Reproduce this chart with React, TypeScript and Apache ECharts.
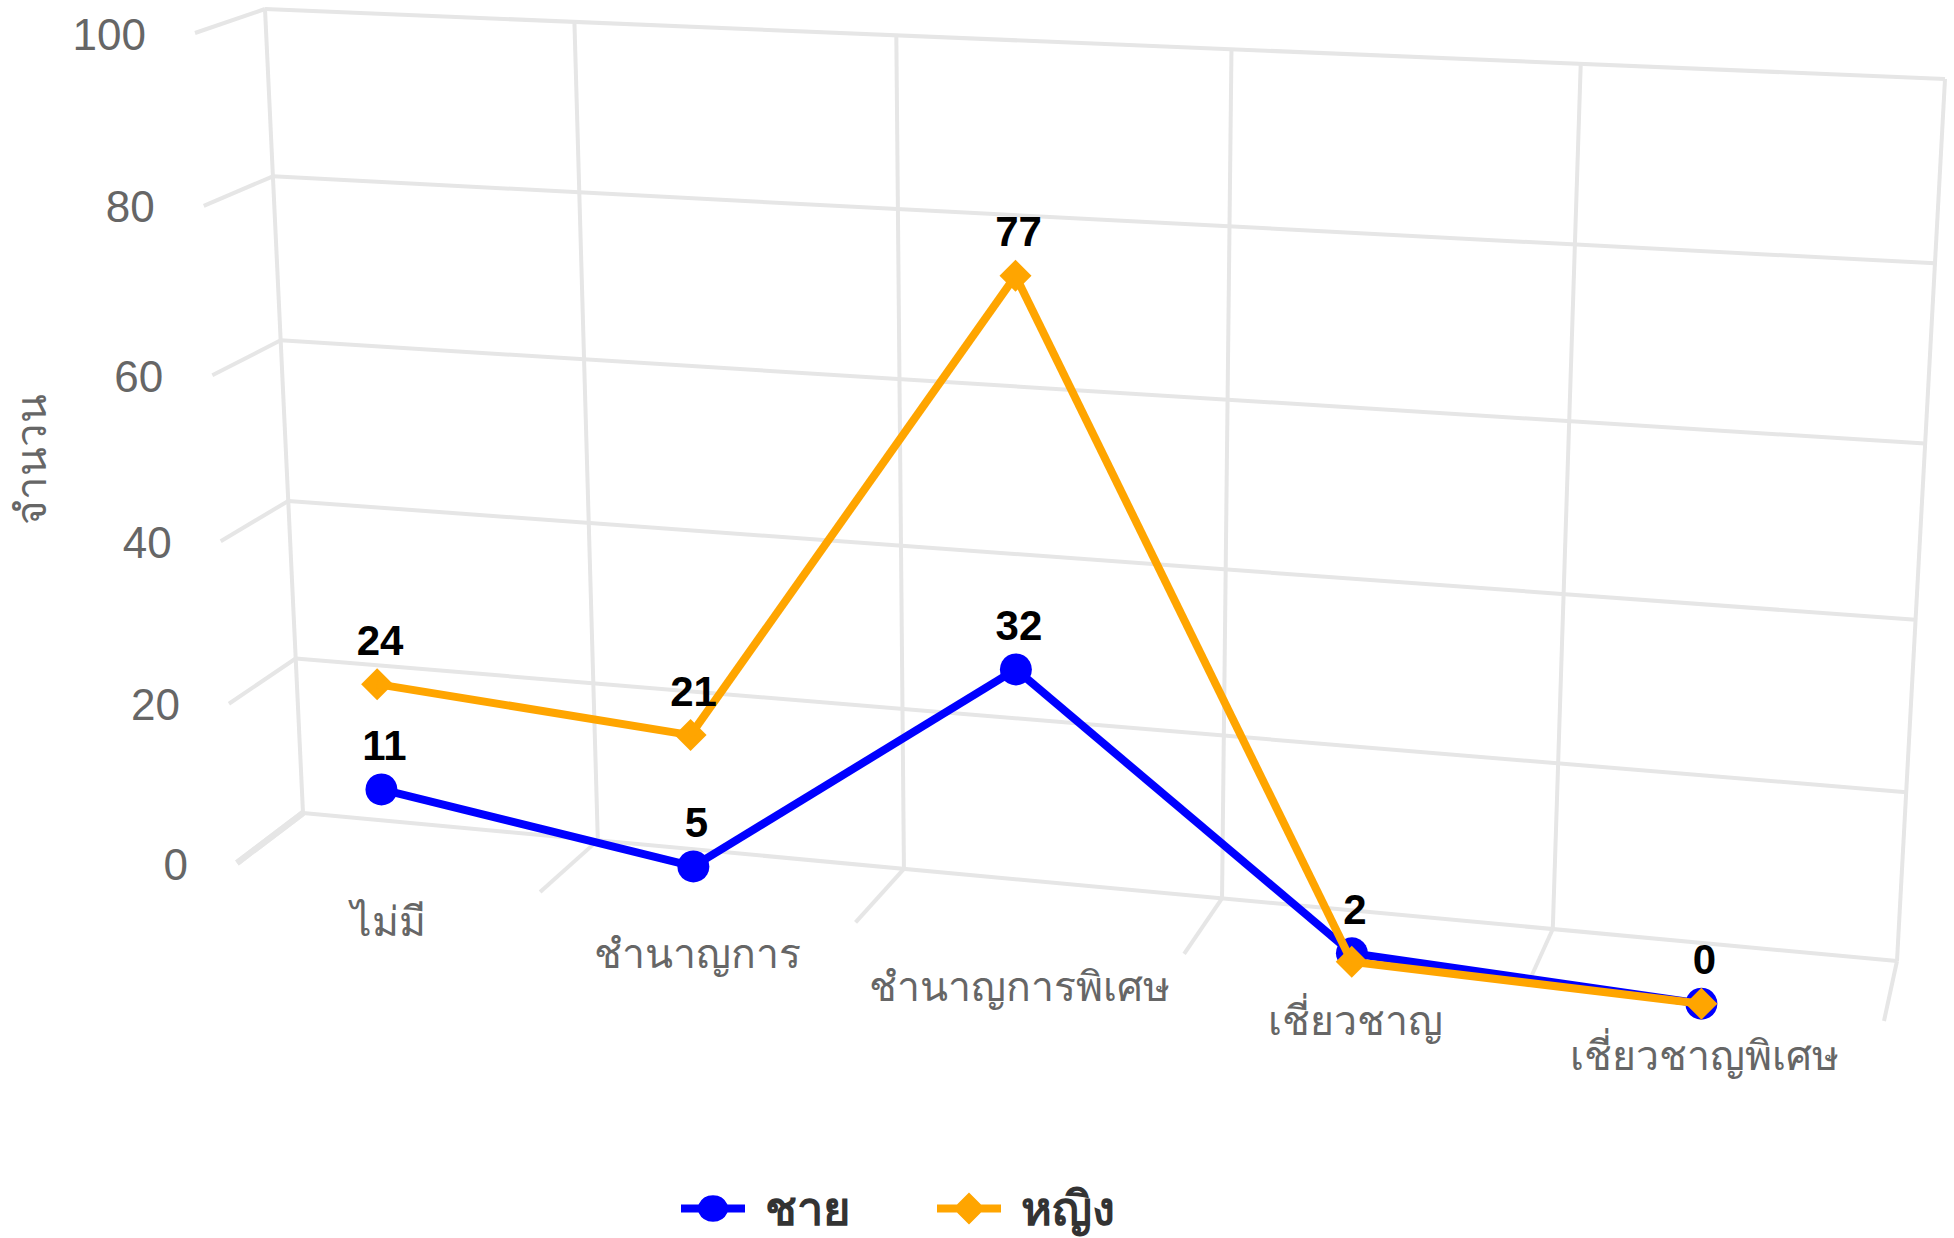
import React, { useEffect, useRef } from "react";
import * as echarts from "echarts";

const categories = ["ไม่มี", "ชำนาญการ", "ชำนาญการพิเศษ", "เชี่ยวชาญ", "เชี่ยวชาญพิเศษ"];
const maleValues = [11, 5, 32, 2, 0];
const femaleValues = [24, 21, 77, 1, 0];
const yTicks = [0, 20, 40, 60, 80, 100];
const maleName = "ชาย";
const femaleName = "หญิง";
const axisTitle = "จำนวน";

const FONT = '"Liberation Sans", Arial, "Noto Sans", sans-serif';
const GRID = { left: 200, top: 59, width: 1700, height: 800 };
type P = [number, number];
const FRONT: P[] = [[195, 33], [1934, 105], [1884, 1021], [237, 863]];
const BACK: P[] = [[265, 9], [1945, 79], [1897, 961], [303, 813]];
const POINT_DX = -2;

function homography(q: P[]) {
  const [[x0, y0], [x1, y1], [x2, y2], [x3, y3]] = q;
  const dx1 = x1 - x2, dx2 = x3 - x2, sx = x0 - x1 + x2 - x3;
  const dy1 = y1 - y2, dy2 = y3 - y2, sy = y0 - y1 + y2 - y3;
  const den = dx1 * dy2 - dx2 * dy1;
  const g = (sx * dy2 - dx2 * sy) / den, h = (dx1 * sy - sx * dy1) / den;
  const a = x1 - x0 + g * x1, b = x3 - x0 + h * x3, d = y1 - y0 + g * y1, e = y3 - y0 + h * y3;
  return (p: number[]): P => {
    const u = (p[0] - GRID.left) / GRID.width, v = (p[1] - GRID.top) / GRID.height;
    const w = g * u + h * v + 1;
    return [(a * u + b * v + x0) / w, (d * u + e * v + y0) / w];
  };
}
const toFront = homography(FRONT);
const toBack = homography(BACK);

const GRID_COLOR = "#e6e6e6";
const seg = (a: P, b: P, lineWidth = 4) => ({
  type: "line",
  shape: { x1: a[0], y1: a[1], x2: b[0], y2: b[1] },
  style: { stroke: GRID_COLOR, lineWidth, fill: null },
});

function renderFrame(_: any, api: any) {
  const band = api.size([1, 0])[0];
  const x0 = api.coord([0, 0])[0] - band / 2;
  const children: any[] = [];
  yTicks.forEach((t) => {
    const l = api.coord([0, t])[1];
    const left = [x0, l], right = [x0 + band * categories.length, l];
    children.push(seg(toBack(left), toBack(right)));
    children.push(seg(toFront(left), toBack(left), t === 0 ? 6 : 4));
    const f = toFront(left);
    children.push({
      type: "text",
      x: f[0] - 49,
      y: f[1] + 1,
      style: { text: String(t), fontSize: 44, fontFamily: FONT, fill: "#666666", align: "right", verticalAlign: "middle" },
    });
  });
  const yBottom = api.coord([0, 0])[1], yTop = api.coord([0, 100])[1];
  for (let i = 0; i <= categories.length; i++) {
    const x = x0 + band * i;
    children.push(seg(toBack([x, yTop]), toBack([x, yBottom])));
    children.push(seg(toFront([x, yBottom]), toBack([x, yBottom]), i === 0 ? 6 : 4));
  }
  categories.forEach((c, i) => {
    const p = toFront(api.coord([i, 0]));
    children.push({
      type: "text",
      x: p[0] + 1.5,
      y: p[1] + 45 + 1.9 * i,
      style: { text: c, fontSize: 41, fontFamily: FONT, fill: "#666666", align: "center", verticalAlign: "middle" },
    });
  });
  return { type: "group", children };
}

const lineRenderer = (values: number[], other: number[] | null, color: string, diamond: boolean) => (_: any, api: any) => {
  const i = api.value(0);
  const raw = toFront(api.coord([i, api.value(1)]));
  const p: P = [raw[0] + POINT_DX, raw[1]];
  const children: any[] = [];
  if (i > 0) {
    const q = toFront(api.coord([i - 1, values[i - 1]]));
    children.push({
      type: "line",
      shape: { x1: q[0] + POINT_DX, y1: q[1], x2: p[0], y2: p[1] },
      style: { stroke: color, lineWidth: 8, fill: null },
    });
  }
  children.push(
    diamond
      ? {
          type: "polygon",
          shape: { points: [[p[0], p[1] - 16], [p[0] + 16, p[1]], [p[0], p[1] + 16], [p[0] - 16, p[1]]] },
          style: { fill: color },
        }
      : { type: "circle", shape: { cx: p[0], cy: p[1], r: 16 }, style: { fill: color } }
  );
  // a label that would collide with the other series' label stays hidden, as in the reference
  if (!other || Math.abs(values[i] - other[i]) >= 5) {
    children.push({
      type: "text",
      x: p[0] + 3,
      y: p[1] - 44,
      z2: 10,
      style: { text: String(values[i]), fontSize: 42, fontWeight: "bold", fontFamily: FONT, fill: "#000000", align: "center", verticalAlign: "middle" },
    });
  }
  return { type: "group", children };
};

const maleIcon = "path://M0 12H17.5A16 16 0 0 1 46.5 12H64V20H46.5A16 16 0 0 1 17.5 20H0Z";
const femaleIcon = "path://M0 12H20L32 0L44 12H64V20H44L32 32L20 20H0Z";

export default function App() {
  const ref = useRef<HTMLDivElement>(null);
  useEffect(() => {
    const chart = echarts.init(ref.current!, undefined, { renderer: "svg" });
    chart.setOption({
      animation: false,
      backgroundColor: "#ffffff",
      grid: { ...GRID, outerBoundsMode: "none" },
      xAxis: { type: "category", data: categories, show: false },
      yAxis: {
        type: "value",
        min: 0,
        max: 100,
        interval: 20,
        axisLine: { show: false },
        axisTick: { show: false },
        axisLabel: { show: false },
        splitLine: { show: false },
        name: axisTitle,
        nameLocation: "middle",
        nameRotate: 90,
        nameGap: 148,
        nameTextStyle: { fontSize: 42, fontFamily: FONT, color: "#666666" },
      },
      legend: {
        left: 676,
        top: 1180,
        itemWidth: 64,
        itemHeight: 32,
        itemGap: 86,
        data: [
          { name: maleName, icon: maleIcon },
          { name: femaleName, icon: femaleIcon },
        ],
        textStyle: { fontSize: 47, fontWeight: "bold", fontFamily: FONT, color: "#333333", padding: [0, 0, 0, 15] },
      },
      series: [
        { type: "custom", name: "grid", renderItem: renderFrame, data: [[0, 0]], silent: true, z: 1 },
        {
          type: "custom",
          name: maleName,
          itemStyle: { color: "#0000ff" },
          renderItem: lineRenderer(maleValues, null, "#0000ff", false),
          data: maleValues.map((v, i) => [i, v]),
          z: 2,
        },
        {
          type: "custom",
          name: femaleName,
          itemStyle: { color: "#ffa500" },
          renderItem: lineRenderer(femaleValues, maleValues, "#ffa500", true),
          data: femaleValues.map((v, i) => [i, v]),
          z: 3,
        },
      ],
    });
    return () => chart.dispose();
  }, []);
  return <div ref={ref} style={{ position: "absolute", left: 0, top: 0, width: 1954, height: 1238 }} />;
}
